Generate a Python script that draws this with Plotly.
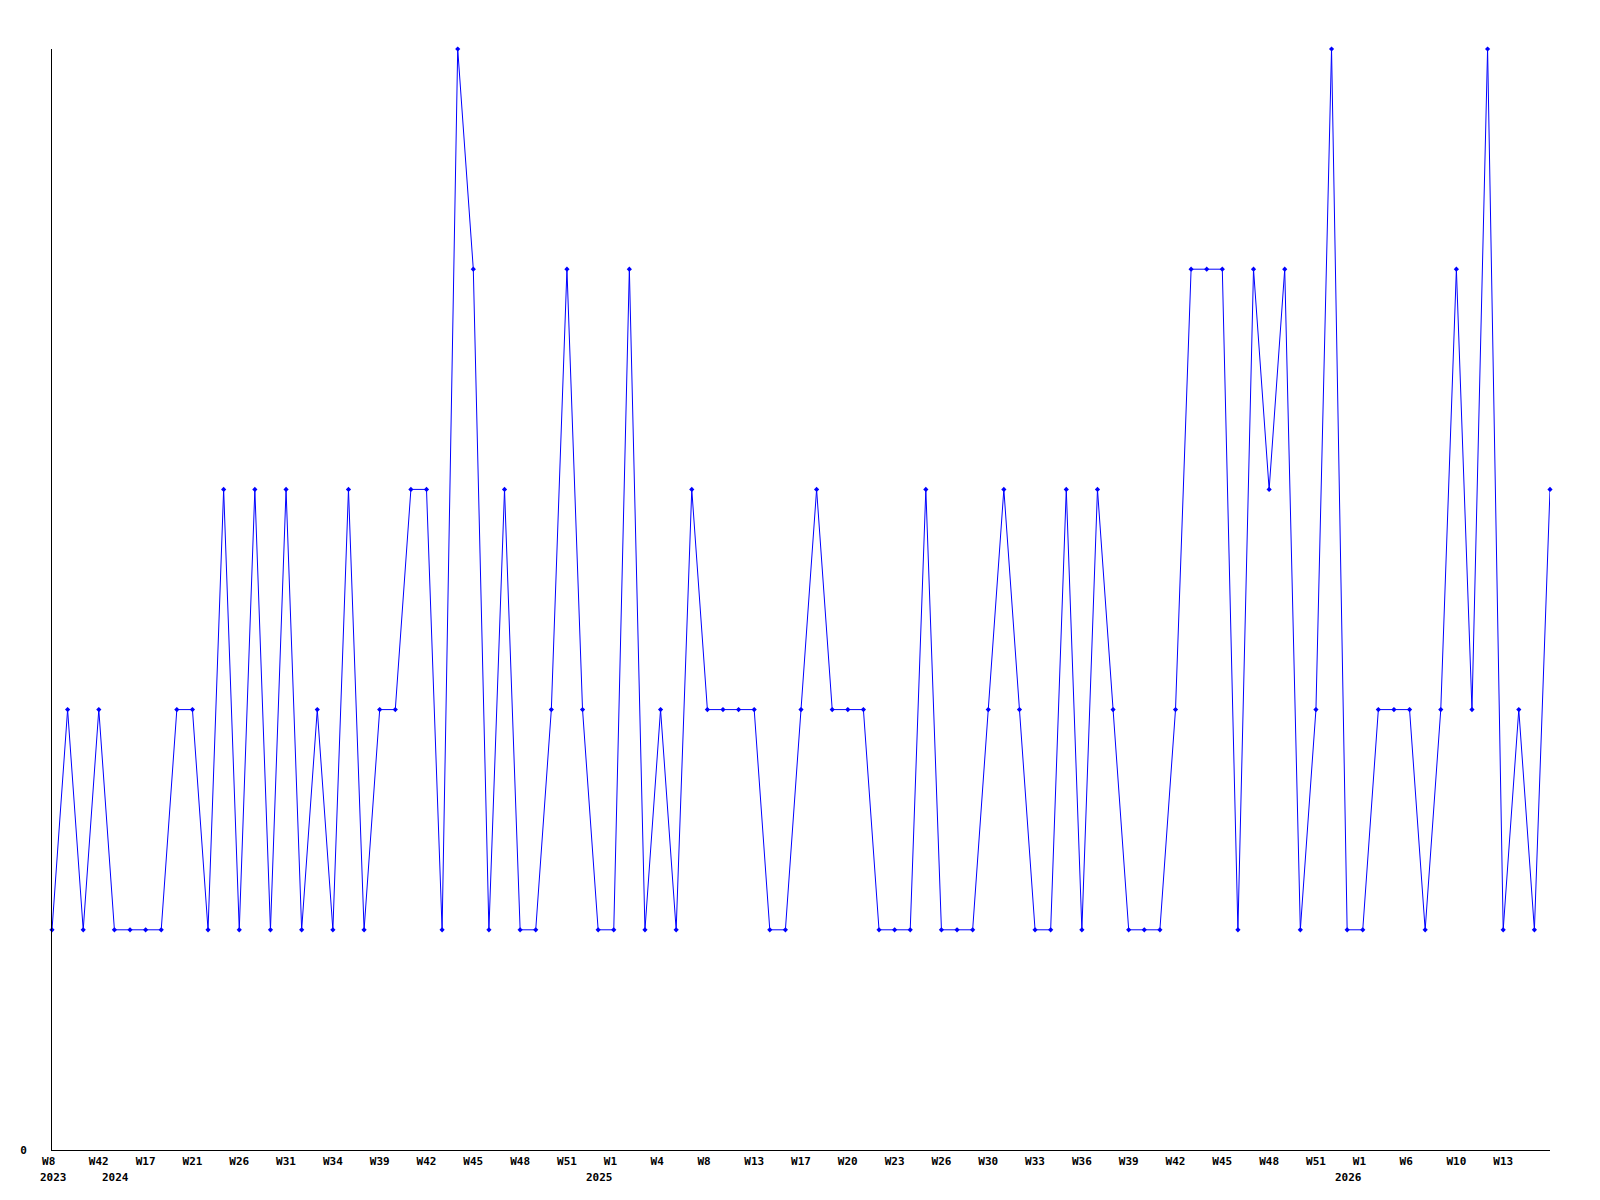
import plotly.graph_objects as go

# Series values, one per week (97 points)
values = [1, 2, 1, 2, 1, 1, 1, 1, 2, 2,
          1, 3, 1, 3, 1, 3, 1, 2, 1, 3,
          1, 2, 2, 3, 3, 1, 5, 4, 1, 3,
          1, 1, 2, 4, 2, 1, 1, 4, 1, 2,
          1, 3, 2, 2, 2, 2, 1, 1, 2, 3,
          2, 2, 2, 1, 1, 1, 3, 1, 1, 1,
          2, 3, 2, 1, 1, 3, 1, 3, 2, 1,
          1, 1, 2, 4, 4, 4, 1, 4, 3, 4,
          1, 2, 5, 1, 1, 2, 2, 2, 1, 2,
          4, 2, 5, 1, 2, 1, 3]

# Week tick labels (one every third point)
week_labels = ["W8", "W42", "W17", "W21", "W26", "W31", "W34", "W39", "W42", "W45",
               "W48", "W51", "W1", "W4", "W8", "W13", "W17", "W20", "W23", "W26",
               "W30", "W33", "W36", "W39", "W42", "W45", "W48", "W51", "W1", "W6",
               "W10", "W13"]
label_step = 3

# Year labels and the point index where each year starts
years = ["2023", "2024", "2025", "2026"]
year_start_index = [0, 4, 35, 83]

x = list(range(len(values)))
font = dict(family="DejaVu Sans Mono", size=11, color="black")

fig = go.Figure()
fig.add_trace(go.Scatter(
    x=x, y=values, mode="lines+markers",
    line=dict(color="#0000FF", width=1),
    marker=dict(color="#0000FF", size=4, symbol="diamond"),
    cliponaxis=False, showlegend=False, hoverinfo="x+y",
))

for yr, idx in zip(years, year_start_index):
    fig.add_annotation(x=idx, y=0, xref="x", yref="paper", text="<b>" + yr + "</b>",
                       showarrow=False, yanchor="middle", xanchor="left",
                       xshift=-14, yshift=-27, font=font)

# left-align week labels (monospace): pad to three characters
tick_text = ["<b>" + t.ljust(3, "\u00a0") + "</b>" for t in week_labels]

fig.update_layout(
    width=1592, height=1192,
    margin=dict(l=42, r=50, t=41, b=50),
    plot_bgcolor="white", paper_bgcolor="white",
    font=font,
)
fig.update_xaxes(
    range=[0, len(values) - 1], showgrid=False, zeroline=False,
    showline=True, linecolor="black", linewidth=1,
    tickvals=x[::label_step][:len(week_labels)],
    ticktext=tick_text,
    ticks="outside", ticklen=1, tickcolor="rgba(0,0,0,0)",
    tickfont=font, tickangle=0,
)
fig.update_yaxes(
    range=[0, 5], showgrid=False, zeroline=False,
    showline=True, linecolor="black", linewidth=1,
    tickvals=[0], ticktext=["<b>0</b>"],
    ticks="outside", ticklen=22, tickcolor="rgba(0,0,0,0)",
    tickfont=font,
)

fig.write_html("out.html")
